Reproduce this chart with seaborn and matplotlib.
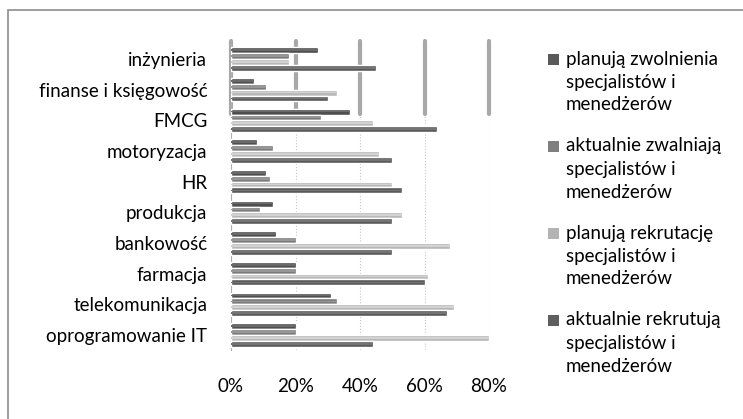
import matplotlib
matplotlib.use("Agg")
import matplotlib.pyplot as plt
import matplotlib.patches as mpatches
import seaborn as sns
import pandas as pd

categories = ["inżynieria", "finanse i księgowość", "FMCG", "motoryzacja", "HR",
              "produkcja", "bankowość", "farmacja", "telekomunikacja", "oprogramowanie IT"]

series_names = ["planują zwolnienia\nspecjalistów i\nmenedżerów",
                "aktualnie zwalniają\nspecjalistów i\nmenedżerów",
                "planują rekrutację\nspecjalistów i\nmenedżerów",
                "aktualnie rekrutują\nspecjalistów i\nmenedżerów"]

planuja_zwolnienia = [0.27, 0.07, 0.37, 0.08, 0.11, 0.13, 0.14, 0.20, 0.31, 0.20]
aktualnie_zwalniaja = [0.18, 0.11, 0.28, 0.13, 0.12, 0.09, 0.20, 0.20, 0.33, 0.20]
planuja_rekrutacje = [0.18, 0.33, 0.44, 0.46, 0.50, 0.53, 0.68, 0.61, 0.69, 0.80]
aktualnie_rekrutuja = [0.45, 0.30, 0.64, 0.50, 0.53, 0.50, 0.50, 0.60, 0.67, 0.44]

tick_values = [0.0, 0.2, 0.4, 0.6, 0.8]
tick_labels = ["0%", "20%", "40%", "60%", "80%"]

colors = ["#4f4f4f", "#7c7c7c", "#b8b8b8", "#5a5a5a"]
legend_colors = ["#5a5a5a", "#7f7f7f", "#b3b3b3", "#5e5e5e"]

rows = []
for vals, name in zip([planuja_zwolnienia, aktualnie_zwalniaja, planuja_rekrutacje, aktualnie_rekrutuja],
                      series_names):
    for cat, v in zip(categories, vals):
        rows.append({"kategoria": cat, "wartosc": v, "seria": name})
df = pd.DataFrame(rows)

sns.set_theme(style="white")
plt.rcParams["font.family"] = ["Lato", "DejaVu Sans"]

fig = plt.figure(figsize=(7.43, 4.19), dpi=100)
W, H = 743, 419
ax_left, ax_right = 231, 489
ax_top, ax_bottom = 43.7, 350.3
ax = fig.add_axes([ax_left / W, 1 - ax_bottom / H, (ax_right - ax_left) / W, (ax_bottom - ax_top) / H])

sns.barplot(data=df, y="kategoria", x="wartosc", hue="seria", order=categories,
            hue_order=series_names, palette=colors, orient="h", width=0.76,
            saturation=1, ax=ax, legend=False, zorder=3)

# soft highlight stripe along each bar, mimicking a rounded shading
for p in list(ax.patches):
    x0, y0 = p.get_x(), p.get_y()
    w, h = p.get_width(), p.get_height()
    base = p.get_facecolor()
    light = tuple(min(1, c + 0.10) for c in base[:3])
    ax.add_patch(mpatches.Rectangle((x0, y0 + h * 0.35), w, h * 0.3, facecolor=light,
                                    edgecolor="none", zorder=4))

ax.set_xlim(0, 0.8)
ax.set_ylim(len(categories) - 0.5, -0.5)
ax.set_xticks(tick_values)
ax.set_xticklabels(tick_labels)
ax.set_xlabel("")
ax.set_ylabel("")

# gridlines: thin dotted plus the heavier back-wall segments at the top
for v in tick_values:
    ax.axvline(v, color="#c4c4c4", lw=0.8, ls=":", zorder=1)
    ax.axvline(v, ymin=0.77, ymax=1.01, color="#a8a8a8", lw=3, zorder=2, clip_on=False)

for s in ["top", "right", "bottom"]:
    ax.spines[s].set_visible(False)
ax.spines["left"].set_color("#b0b0b0")
ax.spines["left"].set_linewidth(0.8)

ax.tick_params(axis="x", length=0, pad=20, labelsize=13.5, colors="#000000")
ax.tick_params(axis="y", length=0, pad=17, labelsize=13.5, colors="#000000")

# legend: swatch beside the first line of each three-line entry
first_line_y = [59, 146, 233, 320]
line_pitch = 23
for name, col, y in zip(series_names, legend_colors, first_line_y):
    fig.patches.append(mpatches.Rectangle((548 / W, 1 - (y + 6) / H), 11 / W, 11 / H,
                                          transform=fig.transFigure, facecolor=col,
                                          edgecolor="none"))
    for k, line in enumerate(name.split("\n")):
        fig.text(566 / W, 1 - (y + k * line_pitch) / H, line, fontsize=13.5,
                 color="#000000", ha="left", va="center")

fig.patches.append(mpatches.Rectangle((8 / W, -0.05), 1.2, 1 - 10 / H + 0.05,
                                      transform=fig.transFigure, fill=False,
                                      edgecolor="#8c8c8c", lw=1.2))

fig.savefig("out.png", dpi=100)
